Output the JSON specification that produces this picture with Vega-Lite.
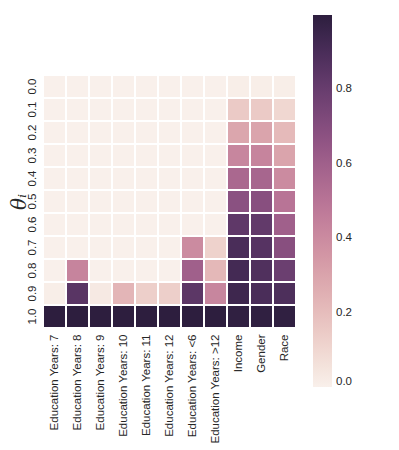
{
"$schema": "https://vega.github.io/schema/vega-lite/v6.json",
"autosize": {"type": "none"},
"padding": {"left": 43, "top": 75, "right": 103, "bottom": 122},
"width": 253,
"height": 253,
"background": "white",
"config": {"view": {"stroke": null}, "font": "Liberation Sans"},
"datasets": {"d": [
{"t":"0.0","f":"Education Years: 7","v":0},{"t":"0.0","f":"Education Years: 8","v":0},{"t":"0.0","f":"Education Years: 9","v":0},{"t":"0.0","f":"Education Years: 10","v":0},{"t":"0.0","f":"Education Years: 11","v":0},{"t":"0.0","f":"Education Years: 12","v":0},{"t":"0.0","f":"Education Years: <6","v":0},{"t":"0.0","f":"Education Years: >12","v":0},{"t":"0.0","f":"Income","v":0.01},{"t":"0.0","f":"Gender","v":0.01},{"t":"0.0","f":"Race","v":0.01},
{"t":"0.1","f":"Education Years: 7","v":0},{"t":"0.1","f":"Education Years: 8","v":0},{"t":"0.1","f":"Education Years: 9","v":0},{"t":"0.1","f":"Education Years: 10","v":0},{"t":"0.1","f":"Education Years: 11","v":0},{"t":"0.1","f":"Education Years: 12","v":0},{"t":"0.1","f":"Education Years: <6","v":0},{"t":"0.1","f":"Education Years: >12","v":0},{"t":"0.1","f":"Income","v":0.15},{"t":"0.1","f":"Gender","v":0.15},{"t":"0.1","f":"Race","v":0.1},
{"t":"0.2","f":"Education Years: 7","v":0},{"t":"0.2","f":"Education Years: 8","v":0},{"t":"0.2","f":"Education Years: 9","v":0},{"t":"0.2","f":"Education Years: 10","v":0},{"t":"0.2","f":"Education Years: 11","v":0},{"t":"0.2","f":"Education Years: 12","v":0},{"t":"0.2","f":"Education Years: <6","v":0},{"t":"0.2","f":"Education Years: >12","v":0},{"t":"0.2","f":"Income","v":0.29},{"t":"0.2","f":"Gender","v":0.3},{"t":"0.2","f":"Race","v":0.21},
{"t":"0.3","f":"Education Years: 7","v":0},{"t":"0.3","f":"Education Years: 8","v":0},{"t":"0.3","f":"Education Years: 9","v":0},{"t":"0.3","f":"Education Years: 10","v":0},{"t":"0.3","f":"Education Years: 11","v":0},{"t":"0.3","f":"Education Years: 12","v":0},{"t":"0.3","f":"Education Years: <6","v":0},{"t":"0.3","f":"Education Years: >12","v":0},{"t":"0.3","f":"Income","v":0.42},{"t":"0.3","f":"Gender","v":0.43},{"t":"0.3","f":"Race","v":0.3},
{"t":"0.4","f":"Education Years: 7","v":0},{"t":"0.4","f":"Education Years: 8","v":0},{"t":"0.4","f":"Education Years: 9","v":0},{"t":"0.4","f":"Education Years: 10","v":0},{"t":"0.4","f":"Education Years: 11","v":0},{"t":"0.4","f":"Education Years: 12","v":0},{"t":"0.4","f":"Education Years: <6","v":0},{"t":"0.4","f":"Education Years: >12","v":0},{"t":"0.4","f":"Income","v":0.56},{"t":"0.4","f":"Gender","v":0.57},{"t":"0.4","f":"Race","v":0.4},
{"t":"0.5","f":"Education Years: 7","v":0},{"t":"0.5","f":"Education Years: 8","v":0},{"t":"0.5","f":"Education Years: 9","v":0},{"t":"0.5","f":"Education Years: 10","v":0},{"t":"0.5","f":"Education Years: 11","v":0},{"t":"0.5","f":"Education Years: 12","v":0},{"t":"0.5","f":"Education Years: <6","v":0},{"t":"0.5","f":"Education Years: >12","v":0},{"t":"0.5","f":"Income","v":0.68},{"t":"0.5","f":"Gender","v":0.69},{"t":"0.5","f":"Race","v":0.5},
{"t":"0.6","f":"Education Years: 7","v":0},{"t":"0.6","f":"Education Years: 8","v":0},{"t":"0.6","f":"Education Years: 9","v":0},{"t":"0.6","f":"Education Years: 10","v":0},{"t":"0.6","f":"Education Years: 11","v":0},{"t":"0.6","f":"Education Years: 12","v":0},{"t":"0.6","f":"Education Years: <6","v":0},{"t":"0.6","f":"Education Years: >12","v":0},{"t":"0.6","f":"Income","v":0.83},{"t":"0.6","f":"Gender","v":0.82},{"t":"0.6","f":"Race","v":0.6},
{"t":"0.7","f":"Education Years: 7","v":0},{"t":"0.7","f":"Education Years: 8","v":0},{"t":"0.7","f":"Education Years: 9","v":0},{"t":"0.7","f":"Education Years: 10","v":0},{"t":"0.7","f":"Education Years: 11","v":0},{"t":"0.7","f":"Education Years: 12","v":0},{"t":"0.7","f":"Education Years: <6","v":0.4},{"t":"0.7","f":"Education Years: >12","v":0.12},{"t":"0.7","f":"Income","v":0.9},{"t":"0.7","f":"Gender","v":0.86},{"t":"0.7","f":"Race","v":0.69},
{"t":"0.8","f":"Education Years: 7","v":0},{"t":"0.8","f":"Education Years: 8","v":0.43},{"t":"0.8","f":"Education Years: 9","v":0},{"t":"0.8","f":"Education Years: 10","v":0},{"t":"0.8","f":"Education Years: 11","v":0},{"t":"0.8","f":"Education Years: 12","v":0},{"t":"0.8","f":"Education Years: <6","v":0.6},{"t":"0.8","f":"Education Years: >12","v":0.22},{"t":"0.8","f":"Income","v":0.92},{"t":"0.8","f":"Gender","v":0.88},{"t":"0.8","f":"Race","v":0.79},
{"t":"0.9","f":"Education Years: 7","v":0.01},{"t":"0.9","f":"Education Years: 8","v":0.85},{"t":"0.9","f":"Education Years: 9","v":0.03},{"t":"0.9","f":"Education Years: 10","v":0.23},{"t":"0.9","f":"Education Years: 11","v":0.13},{"t":"0.9","f":"Education Years: 12","v":0.13},{"t":"0.9","f":"Education Years: <6","v":0.84},{"t":"0.9","f":"Education Years: >12","v":0.42},{"t":"0.9","f":"Income","v":0.94},{"t":"0.9","f":"Gender","v":0.9},{"t":"0.9","f":"Race","v":0.89},
{"t":"1.0","f":"Education Years: 7","v":1},{"t":"1.0","f":"Education Years: 8","v":1},{"t":"1.0","f":"Education Years: 9","v":1},{"t":"1.0","f":"Education Years: 10","v":1},{"t":"1.0","f":"Education Years: 11","v":1},{"t":"1.0","f":"Education Years: 12","v":1},{"t":"1.0","f":"Education Years: <6","v":1},{"t":"1.0","f":"Education Years: >12","v":1},{"t":"1.0","f":"Income","v":0.99},{"t":"1.0","f":"Gender","v":0.99},{"t":"1.0","f":"Race","v":0.99}
]},
"data": {"name": "d"},
"mark": {"type": "rect", "stroke": "white", "strokeWidth": 2},
"encoding": {
  "x": {"field": "f", "type": "nominal",
    "sort": ["Education Years: 7","Education Years: 8","Education Years: 9","Education Years: 10","Education Years: 11","Education Years: 12","Education Years: <6","Education Years: >12","Income","Gender","Race"],
    "scale": {"paddingInner": 0, "paddingOuter": 0},
    "axis": {"title": null, "labelAngle": -90, "ticks": false, "domain": false, "labelPadding": 6, "labelFontSize": 11.5, "labelColor": "#262626"}},
  "y": {"field": "t", "type": "ordinal",
    "sort": ["0.0","0.1","0.2","0.3","0.4","0.5","0.6","0.7","0.8","0.9","1.0"],
    "scale": {"paddingInner": 0, "paddingOuter": 0},
    "axis": {"title": "θᵢ", "titleFont": "DejaVu Serif", "titleFontStyle": "italic", "titleFontWeight": "normal", "titleFontSize": 20, "titleColor": "#262626", "titlePadding": -3,
      "labelAngle": -90, "ticks": false, "domain": false, "labelPadding": 6, "labelFontSize": 11.5, "labelColor": "#262626"}},
  "color": {"field": "v", "type": "quantitative",
    "scale": {"domain": [0, 1], "range": ["#f9f0eb","#f0d7d1","#e6bdbc","#daa4ac","#cb8ba0","#b87496","#a0608b","#854d7e","#683d6e","#4a2d59","#2d1e3e"]},
    "legend": {"orient": "none", "legendX": 270, "legendY": -60, "direction": "vertical", "gradientLength": 372, "gradientThickness": 19, "gradientStrokeWidth": 0, "values": [0, 0.2, 0.4, 0.6, 0.8], "format": ".1f", "title": null, "labelFontSize": 11.5, "labelColor": "#262626", "padding": 0, "labelOffset": 4}}
}
}
